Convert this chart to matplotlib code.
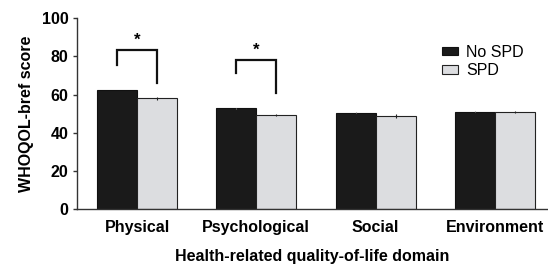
import numpy as np
import matplotlib.pyplot as plt

plt.rcParams['font.family'] = ['Liberation Sans', 'DejaVu Sans']

domains = ['Physical', 'Psychological', 'Social', 'Environment']
no_spd = [62.4, 52.8, 50.5, 51.0]
no_spd_err = [0.2, 0.2, 0.2, 0.2]
spd = [58.0, 49.3, 48.6, 50.7]
spd_err = [0.6, 0.6, 1.0, 0.6]

# significance brackets: (group index, left height, top, right height)
sig = [(0, 75.5, 83.4, 66.0), (1, 71.5, 78.1, 60.7)]

x = np.arange(len(domains))
w = 0.335

fig = plt.figure(figsize=(5.48, 2.64), dpi=100)
ax = fig.add_axes([77 / 548, 1 - 209 / 264, (548 - 77) / 548, (209 - 18.3) / 264])

ax.bar(x - w / 2, no_spd, w, color='#1a1a1a', edgecolor='#111111', linewidth=0.8,
       yerr=no_spd_err, error_kw=dict(ecolor='#888888', elinewidth=0.8, capsize=0), label='No SPD')
ax.bar(x + w / 2, spd, w, color='#dcdde0', edgecolor='#222222', linewidth=0.8,
       yerr=spd_err, error_kw=dict(ecolor='#222222', elinewidth=0.8, capsize=0), label='SPD')

for i, yl, yt, yr in sig:
    ax.plot([i - w / 2, i - w / 2, i + w / 2, i + w / 2], [yl, yt, yt, yr],
            color='#111111', lw=1.6, solid_joinstyle='miter')
    ax.text(i, yt + 1.0, '*', ha='center', va='bottom', fontsize=12, fontweight='bold')

ax.set_xlim(-0.503, 3.445)
ax.set_ylim(0, 100)
ax.set_yticks([0, 20, 40, 60, 80, 100])
ax.set_xticks(x)
ax.set_xticklabels(domains, fontsize=11.5, fontweight='bold')
for t in ax.get_yticklabels():
    t.set_fontsize(11.5)
    t.set_fontweight('bold')
ax.tick_params(axis='x', length=0, pad=8)
ax.tick_params(axis='y', length=3, width=1, color='#333333', pad=3)

for s in ['top', 'right']:
    ax.spines[s].set_visible(False)
for s in ['left', 'bottom']:
    ax.spines[s].set_color('#333333')
    ax.spines[s].set_linewidth(1.0)

ax.set_ylabel('WHOQOL-bref score', fontsize=11.5, fontweight='bold', labelpad=6)
ax.set_xlabel('Health-related quality-of-life domain', fontsize=11.5, fontweight='bold', labelpad=10)

ax.legend(loc='upper left', bbox_to_anchor=(0.775, 0.86), frameon=False, fontsize=11.5,
          handlelength=1.0, handleheight=0.4, handletextpad=0.5, labelspacing=0.2,
          borderpad=0, borderaxespad=0)

fig.savefig('out.png', dpi=100)
